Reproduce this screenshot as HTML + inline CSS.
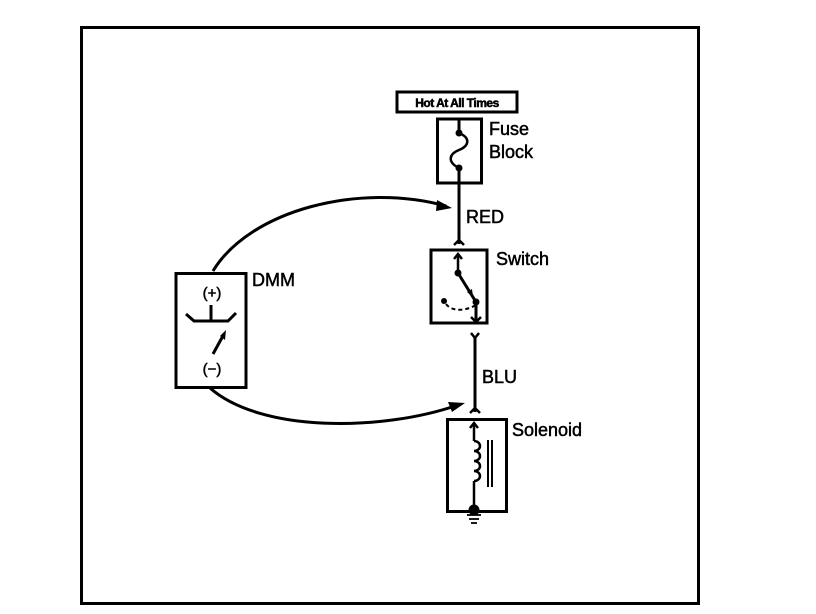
<!DOCTYPE html>
<html><head><style>
body{margin:0;background:#fff;}
svg{display:block;}
text{font-family:"Liberation Sans",Arial,sans-serif;fill:#000;stroke:#000;stroke-width:0.5;}
</style></head><body>
<svg width="816" height="614" viewBox="0 0 816 614">
<rect x="81.5" y="27.5" width="617" height="576" fill="none" stroke="#000" stroke-width="3"/>
<!-- Hot at all times -->
<rect x="397" y="92" width="120" height="20" fill="none" stroke="#000" stroke-width="3"/>
<text x="457" y="107" font-size="12" font-weight="bold" text-anchor="middle" letter-spacing="-0.5">Hot At All Times</text>
<!-- Fuse block -->
<rect x="437.5" y="119" width="44" height="64" fill="none" stroke="#000" stroke-width="3"/>
<line x1="459" y1="119" x2="459" y2="133" stroke="#000" stroke-width="3"/>
<path d="M459,133 C471,138 469,146 459,150 C449,154 447,162 459,168" fill="none" stroke="#000" stroke-width="2.5"/>
<circle cx="459" cy="133" r="3.5"/><circle cx="459" cy="168" r="3.5"/>
<line x1="459" y1="168" x2="459" y2="244" stroke="#000" stroke-width="3"/>
<path d="M454,245 L459,240 L464,245" fill="none" stroke="#000" stroke-width="2.5"/>
<text x="489" y="135" font-size="18">Fuse</text>
<text x="489" y="158" font-size="18">Block</text>
<text x="466" y="223" font-size="18">RED</text>
<!-- Switch -->
<rect x="431" y="250" width="56" height="73" fill="none" stroke="#000" stroke-width="3"/>
<line x1="458" y1="255" x2="458" y2="273" stroke="#000" stroke-width="2.5"/>
<path d="M454,259 L458,254 L462,259" fill="none" stroke="#000" stroke-width="2.5"/>
<circle cx="458" cy="273" r="3.5"/>
<line x1="458" y1="273" x2="476" y2="302" stroke="#000" stroke-width="3"/>
<path d="M467,292 L473,297 L472,289 Z"/>
<circle cx="476" cy="302" r="3.5"/>
<circle cx="444" cy="301" r="3"/>
<path d="M446,304 C452,312 466,311 476,305" fill="none" stroke="#000" stroke-width="2" stroke-dasharray="4,3"/>
<line x1="476" y1="302" x2="476" y2="322" stroke="#000" stroke-width="3"/>
<path d="M471,317 L476,322 L481,317" fill="none" stroke="#000" stroke-width="2.5"/>
<text x="496" y="265" font-size="18">Switch</text>
<!-- BLU wire -->
<path d="M471,333 L475,338 L479,333" fill="none" stroke="#000" stroke-width="2.5"/>
<line x1="475" y1="337" x2="475" y2="412" stroke="#000" stroke-width="3"/>
<path d="M470,413 L475,408 L480,413" fill="none" stroke="#000" stroke-width="2.5"/>
<text x="482" y="383" font-size="18">BLU</text>
<!-- Solenoid -->
<rect x="447.5" y="419.5" width="59" height="92" fill="none" stroke="#000" stroke-width="3"/>
<line x1="474" y1="424" x2="474" y2="441" stroke="#000" stroke-width="2.5"/>
<path d="M470,428 L474,423 L478,428" fill="none" stroke="#000" stroke-width="2.5"/>
<path d="M474,441 a6,5 0 0 1 0,10 a6,5 0 0 1 0,10 a6,5 0 0 1 0,10 a6,5 0 0 1 0,10" fill="none" stroke="#000" stroke-width="2.5"/>
<line x1="474" y1="481" x2="474" y2="512" stroke="#000" stroke-width="2.5"/>
<line x1="488" y1="440" x2="488" y2="487" stroke="#000" stroke-width="2"/>
<line x1="492" y1="440" x2="492" y2="487" stroke="#000" stroke-width="2"/>
<circle cx="474" cy="510" r="5.5"/>
<line x1="467" y1="515" x2="481" y2="515" stroke="#000" stroke-width="1.8"/>
<line x1="469" y1="519" x2="479" y2="519" stroke="#000" stroke-width="1.8"/>
<line x1="471" y1="523" x2="477" y2="523" stroke="#000" stroke-width="1.8"/>
<text x="512" y="436" font-size="18">Solenoid</text>
<!-- DMM -->
<rect x="176" y="273.5" width="70" height="114" fill="none" stroke="#000" stroke-width="3"/>
<text x="212" y="298" font-size="15" text-anchor="middle">(+)</text>
<text x="212" y="374" font-size="15" text-anchor="middle">(−)</text>
<path d="M186,314 L194,321 L228,321 L236,313" fill="none" stroke="#000" stroke-width="3"/>
<line x1="211" y1="305" x2="211" y2="321" stroke="#000" stroke-width="3"/>
<line x1="213" y1="354" x2="224" y2="334" stroke="#000" stroke-width="3"/>
<path d="M220,336 L226,330 L225,340 Z"/>
<text x="252" y="286" font-size="18">DMM</text>
<!-- curves -->
<path d="M213,271 C250,210 360,182 446,206" fill="none" stroke="#000" stroke-width="3"/>
<path d="M452,208 L437,200 L436,211 Z"/>
<path d="M210,388 C260,432 380,432 458,405" fill="none" stroke="#000" stroke-width="3"/>
<path d="M465,403 L448,402 L452,412 Z"/>
</svg>
</body></html>
